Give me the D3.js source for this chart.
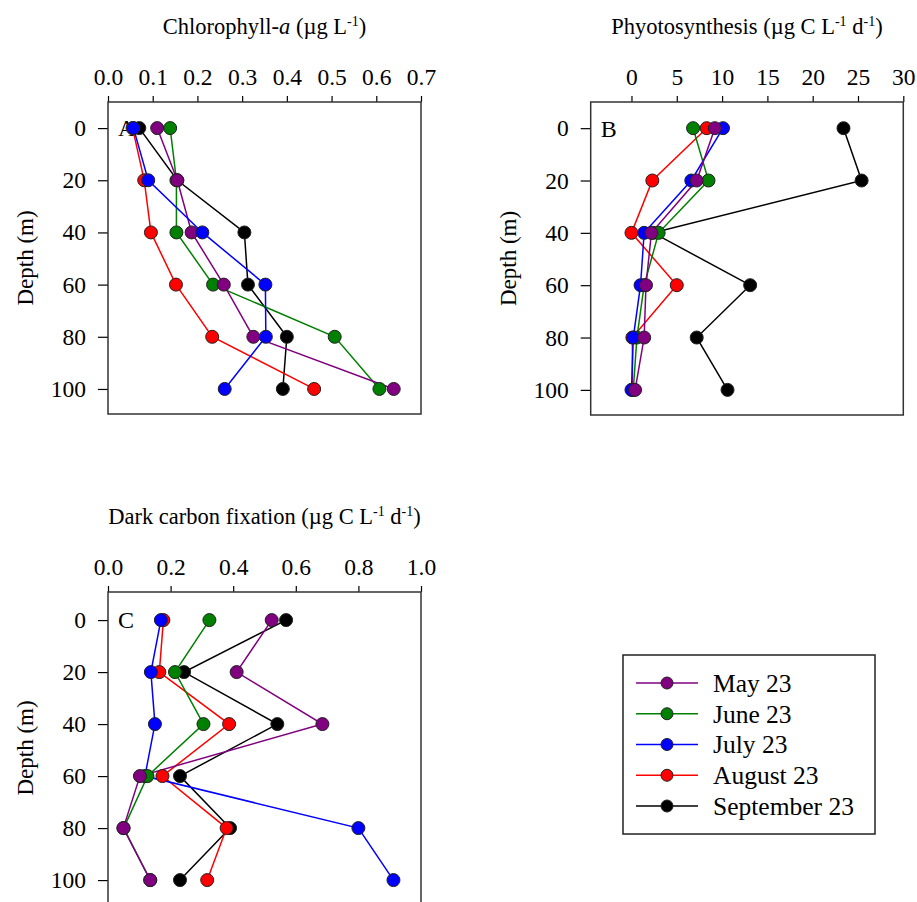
<!DOCTYPE html>
<html>
<head>
<meta charset="utf-8">
<script src="https://cdn.jsdelivr.net/npm/d3@7"></script>
<style>
  body { margin: 0; background: #fff; }
  svg text { font-family: "Liberation Serif", "Times New Roman", serif; white-space: pre; }
</style>
</head>
<body>
<svg id="chart" width="917" height="902"></svg>
<script>

// depth of each sample (m)
const depths = [0, 20, 40, 60, 80, 100];
const months = ["May 23", "June 23", "July 23", "August 23", "September 23"];
const monthColors = ["#800080", "#008000", "#0000ff", "#ff0000", "#000000"];

// values per month (May, June, July, August, September), one per depth
const chlorophyll = [
  [0.110, 0.155, 0.187, 0.259, 0.325, 0.639],
  [0.139, 0.153, 0.153, 0.235, 0.507, 0.607],
  [0.057, 0.090, 0.211, 0.352, 0.353, 0.261],
  [0.055, 0.081, 0.096, 0.152, 0.233, 0.461],
  [0.070, 0.155, 0.305, 0.313, 0.400, 0.391]
];
const photosynthesis = [
  [9.2, 7.2, 2.2, 1.6, 1.4, 0.4],
  [6.8, 8.5, 3.0, 1.4, 0.6, 0.2],
  [10.1, 6.6, 1.4, 1.0, 0.2, 0.0],
  [8.3, 2.3, 0.0, 5.0, 0.1, 0.1],
  [23.4, 25.4, 2.4, 13.1, 7.2, 10.6]
];
const darkFixation = [
  [0.523, 0.411, 0.685, 0.102, 0.049, 0.135],
  [0.324, 0.214, 0.305, 0.126, 0.050, 0.135],
  [0.169, 0.137, 0.150, 0.118, 0.800, 0.912],
  [0.177, 0.164, 0.387, 0.174, 0.379, 0.317],
  [0.569, 0.243, 0.541, 0.230, 0.390, 0.230]
];

const chlTicks   = [0, 0.1, 0.2, 0.3, 0.4, 0.5, 0.6, 0.7];
const photoTicks = [0, 5, 10, 15, 20, 25, 30];
const darkTicks  = [0, 0.2, 0.4, 0.6, 0.8, 1.0];
const depthTicks = [0, 20, 40, 60, 80, 100];

const svg = d3.select('#chart');

// plain / italic / superscript pieces of a label
function addRichText(sel, parts) {
  let shift = 0;
  parts.forEach(function (p) {
    let ts;
    if (p.sup) {
      ts = sel.append('tspan').attr('dy', -8).attr('font-size', 14).text(p.sup);
      shift = 8;
      return;
    }
    ts = sel.append('tspan').text(p.it || p.t);
    if (p.it) ts.attr('font-style', 'italic');
    if (shift) { ts.attr('dy', shift); shift = 0; }
  });
}

function drawPanel(opt) {
  const x = d3.scaleLinear().domain(opt.xDomain).range([opt.left, opt.right]);
  const y = d3.scaleLinear().domain(opt.yDomain).range([opt.top, opt.bottom]);
  const g = svg.append('g');

  // title
  const title = g.append('text')
    .attr('x', (opt.left + opt.right) / 2)
    .attr('y', opt.top - 68)
    .attr('text-anchor', 'middle')
    .attr('font-size', 22.5);
  addRichText(title, opt.title);

  // top axis
  const xAxis = g.append('g')
    .attr('transform', 'translate(0,' + opt.top + ')')
    .call(d3.axisTop(x).tickValues(opt.xTicks).tickSize(6).tickPadding(11)
      .tickFormat(opt.xFormat));
  xAxis.select('.domain').remove();
  xAxis.selectAll('line').attr('stroke', '#000').attr('stroke-width', 1.2);
  xAxis.selectAll('text').attr('font-size', 23.5).attr('fill', '#000');

  // left axis
  const yAxis = g.append('g')
    .attr('transform', 'translate(' + opt.left + ',0)')
    .call(d3.axisLeft(y).tickValues(depthTicks).tickSize(10).tickPadding(12));
  yAxis.select('.domain').remove();
  yAxis.selectAll('line').attr('stroke', '#000').attr('stroke-width', 1.2);
  yAxis.selectAll('text').attr('font-size', 23.5).attr('fill', '#000');

  g.append('text')
    .attr('transform', 'translate(' + (opt.left - 83) + ',' + ((opt.top + opt.bottom) / 2) + ') rotate(-90)')
    .attr('text-anchor', 'middle')
    .attr('dy', '0.35em')
    .attr('font-size', 23)
    .text('Depth (m)');

  // frame
  g.append('rect')
    .attr('x', opt.left).attr('y', opt.top)
    .attr('width', opt.right - opt.left).attr('height', opt.bottom - opt.top)
    .attr('fill', 'none').attr('stroke', '#333').attr('stroke-width', 1.5);

  g.append('text')
    .attr('x', opt.left + 10)
    .attr('y', y(0))
    .attr('dy', '0.35em')
    .attr('font-size', 24)
    .text(opt.label);

  const line = d3.line()
    .x(function (d) { return x(d[1]); })
    .y(function (d) { return y(d[0]); });

  // lines first, symbols on top
  opt.order.forEach(function (m) {
    g.append('path')
      .attr('d', line(d3.zip(depths, opt.values[m])))
      .attr('fill', 'none')
      .attr('stroke', monthColors[m])
      .attr('stroke-width', 1.5);
  });
  opt.order.forEach(function (m) {
    g.selectAll(null)
      .data(d3.zip(depths, opt.values[m]))
      .enter()
      .append('circle')
      .attr('cx', function (d) { return x(d[1]); })
      .attr('cy', function (d) { return y(d[0]); })
      .attr('r', 6.5)
      .attr('fill', monthColors[m])
      .attr('stroke', '#222')
      .attr('stroke-width', 1);
  });
}

drawPanel({
  label: 'A', values: chlorophyll, order: [4, 3, 1, 0, 2],
  xDomain: [0, 0.7], xTicks: chlTicks, xFormat: d3.format('.1f'),
  yDomain: [-10, 109.6], left: 108, right: 421, top: 102, bottom: 414,
  title: [{t: 'Chlorophyll-'}, {it: 'a'}, {t: ' (µg L'}, {sup: '-1'}, {t: ')'}]
});

drawPanel({
  label: 'B', values: photosynthesis, order: [4, 3, 1, 2, 0],
  xDomain: [-4.5, 30], xTicks: photoTicks, xFormat: d3.format('d'),
  yDomain: [-10, 109.6], left: 590.7, right: 903.3, top: 102, bottom: 415,
  title: [{t: 'Phyotosynthesis (µg C L'}, {sup: '-1'}, {t: ' d'}, {sup: '-1'}, {t: ')'}]
});

drawPanel({
  label: 'C', values: darkFixation, order: [4, 3, 2, 1, 0],
  xDomain: [0, 1], xTicks: darkTicks, xFormat: d3.format('.1f'),
  yDomain: [-10.8, 109.2], left: 108, right: 421, top: 592, bottom: 904,
  title: [{t: 'Dark carbon fixation (µg C L'}, {sup: '-1'}, {t: ' d'}, {sup: '-1'}, {t: ')'}]
});

// legend
const legend = svg.append('g');
legend.append('rect')
  .attr('x', 623).attr('y', 655).attr('width', 252).attr('height', 179)
  .attr('fill', '#fff').attr('stroke', '#222').attr('stroke-width', 1.5);

const rowY = d3.scalePoint().domain(months).range([683, 806]);

months.forEach(function (name, i) {
  const row = legend.append('g').attr('transform', 'translate(0,' + rowY(name) + ')');
  row.append('line')
    .attr('x1', 636).attr('x2', 698)
    .attr('stroke', monthColors[i]).attr('stroke-width', 1.5);
  row.append('circle')
    .attr('cx', 667).attr('r', 6)
    .attr('fill', monthColors[i]).attr('stroke', '#222').attr('stroke-width', 1);
  row.append('text')
    .attr('x', 713).attr('dy', '0.35em')
    .attr('font-size', 25.5)
    .text(name);
});

</script>
</body>
</html>
